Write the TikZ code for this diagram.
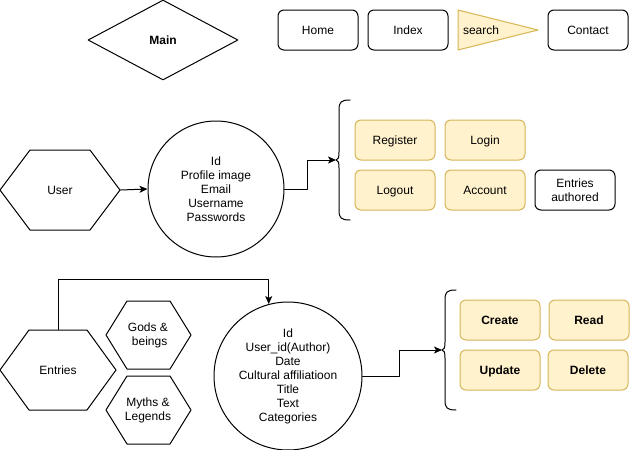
\documentclass[tikz,border=0pt]{standalone}
\usepackage{fontspec}
\setmainfont{Liberation Sans}
\usepackage{xcolor}
\usetikzlibrary{shapes.geometric}
\usetikzlibrary{arrows.meta}

\definecolor{boxfill}{HTML}{FFF2CC}
\definecolor{boxline}{HTML}{D6B656}

\begin{document}
\begin{tikzpicture}[x=1pt, y=-1pt, line width=1pt, line cap=round, line join=round,
  >={Stealth[length=8pt,width=7pt,inset=2pt]},
  font=\fontsize{12}{14}\selectfont,
  oneline/.style={text height=8.6pt, text depth=0pt},
  plainbox/.style={draw, rounded corners=6pt, minimum width=80pt, minimum height=40pt, inner sep=0pt, align=center},
  yellowbox/.style={plainbox, oneline, draw=boxline, fill=boxfill},
  crudbox/.style={yellowbox, font=\fontsize{12}{14}\selectfont\bfseries},
  hexlabel/.style={minimum height=80pt, inner sep=0pt, align=center},
  recordcircle/.style={draw, circle, inner sep=0pt, align=center}]
  \useasboundingbox (0,0) rectangle (630,450);

  % top row
  \node[draw, diamond, oneline, minimum width=150pt, minimum height=80pt, inner sep=0pt, font=\fontsize{12}{14}\selectfont\bfseries] (main) at (163,40) {Main};
  \node[plainbox, oneline] (home) at (318,30) {Home};
  \node[plainbox, oneline] (index) at (408,30) {Index};
  \draw[draw=boxline, fill=boxfill] (458,10) -- (538,30) -- (458,50) -- cycle;
  \node[anchor=west, inner sep=0pt, oneline] (search) at (462.5,30) {search};
  \node[plainbox, oneline] (contact) at (588,30) {Contact};

  % user
  \draw (0,190) -- (30,150) -- (90,150) -- (120,190) -- (90,230) -- (30,230) -- cycle;
  \node[hexlabel, oneline, minimum width=120pt] (user) at (60,190) {User};
  \node[recordcircle, minimum size=136pt] (userdb) at (216,189) {Id\\Profile image\\Email\\Username\\Passwords};
  \node[yellowbox] (register) at (395,140) {Register};
  \node[yellowbox] (login) at (485,140) {Login};
  \node[yellowbox] (logout) at (395,190) {Logout};
  \node[yellowbox] (account) at (485,190) {Account};
  \node[plainbox] (authored) at (575,190) {Entries\\authored};

  % entries
  \draw (0,370) -- (29,330) -- (87,330) -- (116,370) -- (87,410) -- (29,410) -- cycle;
  \node[hexlabel, oneline, minimum width=116pt] (entries) at (58,370) {Entries};
  \draw (106,335) -- (127,301) -- (170,301) -- (191,335) -- (170,369) -- (127,369) -- cycle;
  \node[hexlabel, minimum width=85pt, minimum height=68pt] (gods) at (148,335) {Gods \&~\\~beings};
  \draw (106,410) -- (127,376) -- (170,376) -- (191,410) -- (170,444) -- (127,444) -- cycle;
  \node[hexlabel, minimum width=85pt, minimum height=68pt] (myths) at (148,410) {Myths \&\\Legends};
  \node[recordcircle, minimum size=148pt] (entrydb) at (288,376) {Id\\User\_id(Author)\\Date\\Cultural affiliatioon\\Title\\Text\\Categories};
  \node[crudbox] (create) at (500,320) {Create};
  \node[crudbox] (read) at (589,320) {Read};
  \node[crudbox] (update) at (500,370) {Update};
  \node[crudbox] (delete) at (588,370) {Delete};

  % braces
  \foreach \bx/\by in {350/160, 456/350}
    \draw (\bx,\by-60) .. controls (\bx-9,\by-60) and (\bx-11,\by-58) .. (\bx-11,\by-50)
      -- (\bx-11,\by-8) .. controls (\bx-11,\by-2) and (\bx-12,\by) .. (\bx-14,\by)
      .. controls (\bx-12,\by) and (\bx-11,\by+2) .. (\bx-11,\by+8)
      -- (\bx-11,\by+50) .. controls (\bx-11,\by+58) and (\bx-9,\by+60) .. (\bx,\by+60);
  \coordinate (ubrace) at (336,160);
  \coordinate (ebrace) at (442,350);

  % connectors
  \draw[->] (user.east) -- (userdb.west);
  \draw[->] (userdb.east) -- ++(23,0) |- (ubrace);
  \draw[->] (entries.north) -- ++(0,-50) -| (entrydb.105);
  \draw[->] (entrydb.east) -- ++(37,0) |- (ebrace);
\end{tikzpicture}
\end{document}
